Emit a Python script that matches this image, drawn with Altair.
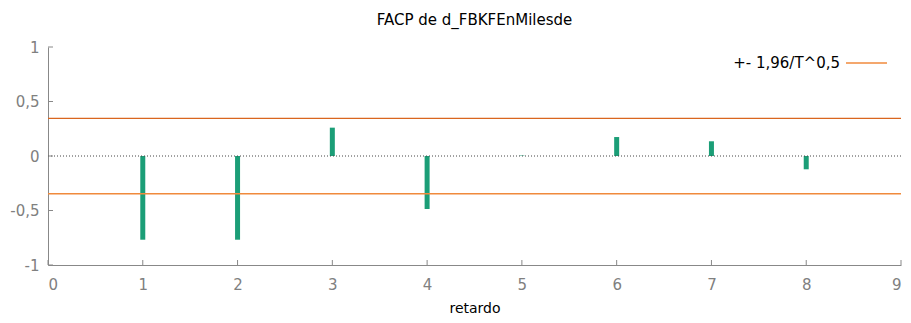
import altair as alt
import pandas as pd

lags = [1, 2, 3, 4, 5, 6, 7, 8]
pacf = [-0.768, -0.768, 0.26, -0.486, 0.004, 0.174, 0.135, -0.122]
band = 0.346
x_ticks = [0, 1, 2, 3, 4, 5, 6, 7, 8, 9]
y_ticks = [-1, -0.5, 0, 0.5, 1]
legend_label = "+- 1,96/T^0,5"

W, H = 853, 218
GRAY = "#888888"
LABEL = "#808080"
FONT = "DejaVu Sans"

bars_df = pd.DataFrame({"lag": lags, "pacf": pacf})
xt_df = pd.DataFrame({"lag": x_ticks})
yt_df = pd.DataFrame({"pacf": y_ticks})

xscale = alt.Scale(domain=[0, 9], nice=False, zero=False)
yscale = alt.Scale(domain=[-1, 1], nice=False)

label_expr = "replace(replace(format(datum.value, '.1~f'), '.', ','), '\u2212', '-')"

xaxis = alt.Axis(values=x_ticks, format="d", title="retardo", ticks=False, grid=False,
                 domainColor=GRAY, labelColor=LABEL, labelFontSize=15,
                 labelFont=FONT, labelPadding=12,
                 titleFont=FONT, titleFontSize=14, titleFontWeight="normal",
                 titleColor="#000000", titlePadding=9)
yaxis = alt.Axis(values=y_ticks, title=None, ticks=False, grid=False,
                 domainColor=GRAY, labelColor=LABEL, labelFontSize=15,
                 labelFont=FONT, labelPadding=9, labelExpr=label_expr)

X = alt.X("lag:Q", scale=xscale, axis=xaxis)
Y = alt.Y("pacf:Q", scale=yscale, axis=yaxis)

bars = alt.Chart(bars_df).mark_rule(color="#1b9e77", strokeWidth=5, strokeCap="butt").encode(
    x=X, y=Y, y2=alt.datum(0),
)

zero = alt.Chart(pd.DataFrame({"pacf": [0]})).mark_rule(
    color="#444444", strokeDash=[1, 2], strokeWidth=1
).encode(y=Y)

upper = alt.Chart(pd.DataFrame({"pacf": [band]})).mark_rule(
    color="#d9661f", strokeWidth=1.2
).encode(y=Y)

lower = alt.Chart(pd.DataFrame({"pacf": [-band]})).mark_rule(
    color="#f08a3c", strokeWidth=1.5
).encode(y=Y)

xticks = alt.Chart(xt_df).mark_rule(color=GRAY).encode(
    x=X, y=alt.value(H), y2=alt.value(H - 5)
)
yticks = alt.Chart(yt_df).mark_rule(color=GRAY).encode(
    y=Y, x=alt.value(0), x2=alt.value(5)
)

leg_text = alt.Chart(pd.DataFrame({"t": [legend_label]})).mark_text(
    align="right", baseline="middle", font=FONT, fontSize=15, color="#000000"
).encode(text="t:N", x=alt.value(792), y=alt.value(16))

leg_line = alt.Chart(pd.DataFrame({"t": [legend_label]})).mark_rule(
    color="#f08a3c", strokeWidth=1.5
).encode(x=alt.value(798), x2=alt.value(839), y=alt.value(16))

chart = alt.layer(bars, upper, lower, zero, xticks, yticks, leg_text, leg_line).properties(
    width=W, height=H,
    title=alt.TitleParams("FACP de d_FBKFEnMilesde", font=FONT, fontSize=15,
                          fontWeight="normal", color="#000000", offset=12, anchor="middle"),
    autosize=alt.AutoSizeParams(type="none"),
    padding={"left": 40, "top": 39, "right": 2, "bottom": 50},
).configure_view(stroke=None)

chart.save("out.html", embed_options={"renderer": "svg", "actions": False})
